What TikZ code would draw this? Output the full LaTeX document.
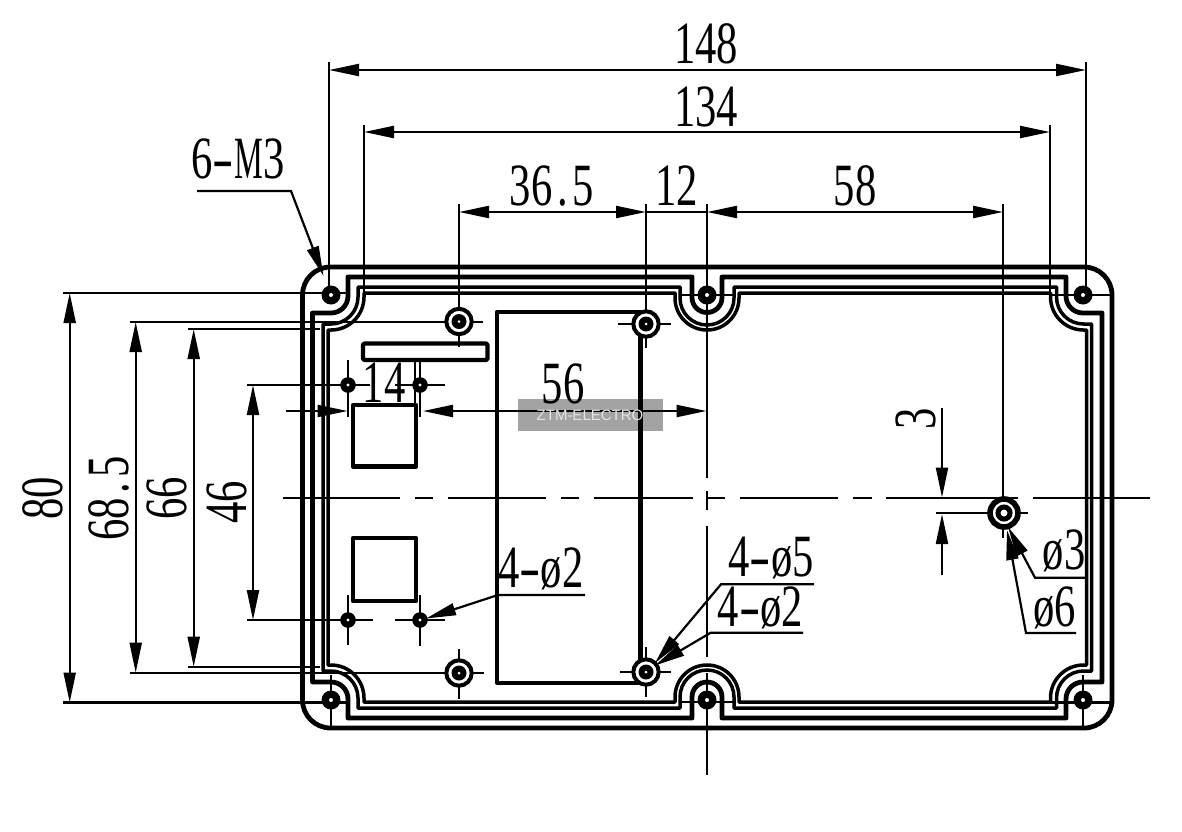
\documentclass[tikz,border=0pt]{standalone}
\usepackage{fontspec}
\usetikzlibrary{arrows.meta}
\setmainfont{Liberation Serif}
\newfontfamily\lblfont[FakeStretch=0.71]{Liberation Serif}
\newfontfamily\wmfont{Liberation Sans}
\newcommand\wdot{\kern5pt.\kern5pt}
\newcommand\wdash{\scalebox{1.5}[1]{-}}
\tikzset{
  thinl/.style={line width=2.2pt,black},
  heavyl/.style={line width=4.8pt,black,line join=round},
  groove/.style={line width=3.5pt,black,line join=round},
  lbl/.style={anchor=base,inner sep=0pt,font=\lblfont\fontsize{60}{60}\selectfont},
  dimtip/.tip={Triangle[length=30pt,width=12pt]},
  dimarr/.style={thinl,{dimtip}-{dimtip}},
  onearr/.style={thinl,-{dimtip}},
  partl/.style={line width=4.4pt,black,line join=round}
}
\newcommand\scr[2]{\fill[black] (#1,#2) circle[radius=9.5]; \fill[white] (#1,#2) circle[radius=2];}
\newcommand\smallh[2]{\fill[black] (#1,#2) circle[radius=7.8]; \fill[white] (#1,#2) circle[radius=1.6];}
\newcommand\boss[2]{\draw[line width=4pt,black,fill=white] (#1,#2) circle[radius=12.7]; \fill[black] (#1,#2) circle[radius=7.5]; \fill[white] (#1,#2) circle[radius=1.5];}
\begin{document}
\begin{tikzpicture}[x=1pt,y=-1pt]
\useasboundingbox (0,0) rectangle (1182,831);
\fill[white] (0,0) rectangle (1182,831);

% housing
\draw[heavyl,rounded corners=28pt] (302.5,267) rectangle (1112,728);
\draw[heavyl] (348,277) -- (692,277) -- (692,297.5) arc[start angle=180,end angle=0,radius=15] -- (722,277) -- (1066,277) -- (1066,296) arc[start angle=180,end angle=90,radius=17] -- (1102,313) -- (1102,682) -- (1083,682) arc[start angle=-90,end angle=-180,radius=17] -- (1066,718) -- (722,718) -- (722,697) arc[start angle=0,end angle=-180,radius=15] -- (692,718) -- (348,718) -- (348,699) arc[start angle=0,end angle=-90,radius=17] -- (312.5,682) -- (312.5,313) -- (331,313) arc[start angle=90,end angle=0,radius=17] -- cycle;
\draw[groove] (358,287) -- (680,287) -- (680,298) arc[start angle=180,end angle=0,radius=27] -- (734,287) -- (1056.5,287) -- (1056.5,297) arc[start angle=180,end angle=90,radius=27] -- (1091.5,324) -- (1091.5,671) -- (1083.5,671) arc[start angle=-90,end angle=-180,radius=27] -- (1056.5,708) -- (734,708) -- (734,697) arc[start angle=0,end angle=-180,radius=27] -- (680,708) -- (358,708) -- (358,698) arc[start angle=0,end angle=-90,radius=27] -- (323,671) -- (323,324) -- (331,324) arc[start angle=90,end angle=0,radius=27] -- cycle;
\draw[groove] (364,293) -- (675,293) -- (675,298) arc[start angle=180,end angle=0,radius=32] -- (739,293) -- (1050.5,293) -- (1050.5,297) arc[start angle=180,end angle=90,radius=33] -- (1086.5,330) -- (1086.5,665) -- (1083.5,665) arc[start angle=-90,end angle=-180,radius=33] -- (1050.5,702) -- (739,702) -- (739,697) arc[start angle=0,end angle=-180,radius=32] -- (675,702) -- (364,702) -- (364,698) arc[start angle=0,end angle=-90,radius=33] -- (328,665) -- (328,330) -- (331,330) arc[start angle=90,end angle=0,radius=33] -- cycle;

% horizontal centre line
\draw[thinl] (283,498) -- (400,498) (415,498) -- (433,498) (448,498) -- (546,498) (561,498) -- (579,498) (594,498) -- (693,498) (707,498) -- (725,498) (740,498) -- (838,498) (853,498) -- (872,498) (886,498) -- (1018,498) (1033,498) -- (1150,498);
% vertical centre line
\draw[thinl] (707,204) -- (707,478) (707,491) -- (707,510) (707,526) -- (707,657) (707,673) -- (707,775);

% extension lines
\draw[thinl] (329,62) -- (329,295) (1086,62) -- (1086,300);
\draw[thinl] (364,125) -- (364,292) (1050,125) -- (1050,292);
\draw[thinl] (459,204) -- (459,347) (646,204) -- (646,348) (1003,204) -- (1003,538);
\draw[thinl] (63,293) -- (350,293) (130,322) -- (483,322) (188,329) -- (320,329) (247,385) -- (370,385) (395,385) -- (445,385);
\draw[thinl] (63,702.5) -- (350,702.5) (130,672.7) -- (484,672.7) (188,666.7) -- (320,666.7) (247,620) -- (373,620) (395,620) -- (445,620);
\draw[thinl] (1050,295) -- (1112,295) (1050,702.5) -- (1112,702.5) (680,295) -- (733,295) (680,702) -- (733,702);
\draw[thinl] (618,324) -- (671,324) (620,672) -- (671,672);
\draw[thinl] (459,649) -- (459,699) (646,647) -- (646,697) (331,675) -- (331,728) (1083,675) -- (1083,728);
\draw[thinl] (348,360) -- (348,417) (420,362) -- (420,417) (415,361) -- (415,405) (348,595) -- (348,645) (420,595) -- (420,646);
\draw[thinl] (936,513) -- (1028,513);

% parts
\draw[partl] (497,312) rectangle (640.5,682.7);
\draw[partl,rounded corners=1.5pt] (363,343.5) rectangle (487.5,360);
\draw[partl] (353,405) rectangle (416,466.5);
\draw[partl] (353,538) rectangle (416,601);

% screws and holes
\scr{331}{295}\scr{707}{295}\scr{1083}{295}
\scr{331}{700}\scr{707}{700}\scr{1083}{700}
\boss{459}{321.5}\boss{646}{324}\boss{459}{673}\boss{646}{672}
\smallh{348}{385}\smallh{420}{385}\smallh{348}{620}\smallh{420}{620}
\draw[line width=5.6pt,black,fill=white] (1004,513) circle[radius=14];
\draw[line width=5pt,black,fill=white] (1004,513) circle[radius=6];

% dimensions
\draw[dimarr] (329,70) -- (1086,70);
\draw[dimarr] (364,132) -- (1050,132);
\draw[dimarr] (459,212) -- (646,212);
\draw[thinl] (646,212) -- (707,212);
\draw[dimarr] (707,212) -- (1003,212);
\draw[dimarr] (69.7,293) -- (69.7,702.5);
\draw[dimarr] (135.7,322) -- (135.7,672.7);
\draw[dimarr] (193.7,329) -- (193.7,666.7);
\draw[dimarr] (253,385) -- (253,620);
\draw[onearr] (286,411) -- (347.5,411);
\draw[dimarr] (423,411) -- (706.5,411);
\draw[onearr] (942,408) -- (942,497.5);
\draw[onearr] (942,575) -- (942,514);

% leaders
\coordinate (m3a) at (197,191);
\coordinate (m3b) at (291,191);
\coordinate (m3t) at (323.5,276);
\draw[onearr] (m3a) -- (m3b) -- (m3t);
\draw[onearr] (585,595) -- (498,595) -- (426,618.5);
\draw[onearr] (814,584.3) -- (721,584.3) -- (655,663);
\draw[onearr] (803,632.7) -- (710.7,632.7) -- (655,665.5);
\draw[onearr] (1085,577.7) -- (1035,577.7) -- (1008,527);
\draw[onearr] (1076,633) -- (1026,633) -- (1007,530);

% labels
\node[lbl] (t148) at (706,63) {148};
\node[lbl] (t134) at (706,126) {134};
\node[lbl] (t365) at (552,205) {36\wdot5};
\node[lbl] (t12) at (676.5,205) {12};
\node[lbl] (t58) at (855,205) {58};
\node[lbl] (tm3) at (238,178) {6\wdash\scalebox{.76}[1]{M}3};
\node[lbl] (t14) at (384,402) {14};
\node[lbl] (t56) at (563,403) {56};
\node[lbl,rotate=90] (t80) at (62,498) {80};
\node[lbl,rotate=90] (t685) at (128,498.5) {68\wdot5};
\node[lbl,rotate=90] (t66) at (186,498) {66};
\node[lbl,rotate=90] (t46) at (246,502) {46};
\node[lbl,rotate=90] (t3) at (935,419) {3};
\node[lbl] (d2a) at (541,587) {4\wdash ø2};
\node[lbl] (d5) at (771,576) {4\wdash ø5};
\node[lbl] (d2b) at (760.5,626) {4\wdash ø2};
\node[lbl] (d3) at (1064,569) {ø3};
\node[lbl] (d6) at (1054.5,626) {ø6};

% watermark
\fill[black,opacity=0.36] (518,399) rectangle (663,431);
\node[anchor=base,inner sep=0pt,text=white!90!black,font=\wmfont\fontsize{15}{15}\selectfont] (wm) at (590,420.5) {ZTM-ELECTRO};
\end{tikzpicture}
\end{document}
